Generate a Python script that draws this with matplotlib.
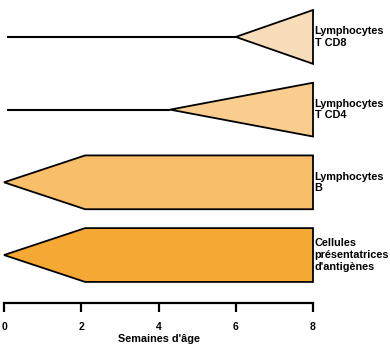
import numpy as np
import matplotlib
matplotlib.use("Agg")
import matplotlib.pyplot as plt
from matplotlib.patches import Polygon

# données : type cellulaire, semaine d'apparition, semaine où la largeur est maximale
cellules = ["Lymphocytes\nT CD8", "Lymphocytes\nT CD4", "Lymphocytes\nB",
            "Cellules\nprésentatrices\nd'antigènes"]
debut = [6.0, 4.3, 0.0, 0.0]
plein = [8.0, 8.0, 2.1, 2.1]
fin = 8.0
couleurs = ["#f7ddb9", "#f9cd8e", "#f8be6a", "#f5a934"]
ticks = [0, 2, 4, 6, 8]

plt.rcParams['font.family'] = ['Liberation Sans', 'DejaVu Sans']

fig = plt.figure(figsize=(3.9, 3.62), dpi=100)
ax = fig.add_axes([0, 59/362, 1, 303/362])
ax.set_xlim(-4/38.625, 386/38.625)
ax.set_ylim(-0.66, 3.508)

demi = 0.37
n = len(cellules)
for i in range(n):
    y = n - 1 - i
    # ligne fine avant l'apparition
    if debut[i] > 0:
        ax.plot([0.07, debut[i]], [y, y], color="black", lw=1.5,
                solid_capstyle="butt", zorder=2)
    pts = [(debut[i], y), (plein[i], y + demi), (fin, y + demi),
           (fin, y - demi), (plein[i], y - demi)]
    ax.add_patch(Polygon(pts, closed=True, facecolor=couleurs[i],
                         edgecolor="black", lw=1.3, zorder=3, clip_on=False))
    ax.text(fin + 0.04, y, cellules[i], ha="left", va="center",
            fontsize=7.8, fontweight="bold", linespacing=1.2)

for s in ["top", "left", "right"]:
    ax.spines[s].set_visible(False)
ax.spines["bottom"].set_bounds(0, 8)
ax.spines["bottom"].set_linewidth(1.6)
ax.set_yticks([])
ax.set_xticks(ticks)
ax.set_xticklabels([str(t) for t in ticks], fontsize=7.5, fontweight="bold")
ax.tick_params(axis="x", direction="out", length=6.5, width=1.6, pad=7.5)
ax.text(4, -1.15, "Semaines d'âge", ha="center", va="center",
        fontsize=7.8, fontweight="bold")

fig.savefig("out.png", dpi=100)
